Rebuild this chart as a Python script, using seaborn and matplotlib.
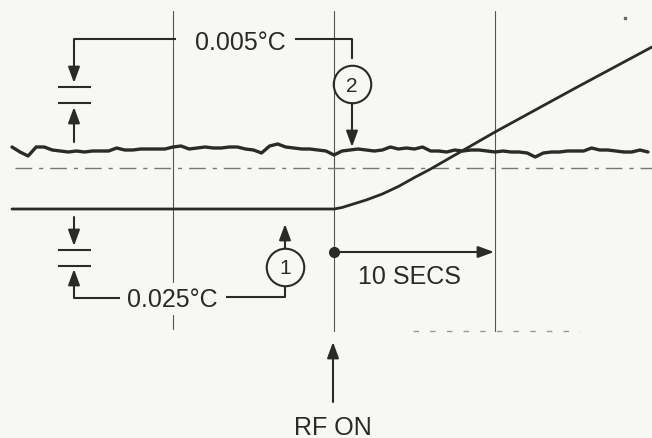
import numpy as np
import pandas as pd
import matplotlib.pyplot as plt
import seaborn as sns

# time relative to RF switch-on (s); chart paper runs ~16 px per second
t_noise = np.arange(-20, 20, 0.5)
# trace 2 (0.005 C scale), pen position
trace2 = [148, 153, 157, 148, 148, 151, 152, 153, 152, 153,
          152, 152, 152, 149, 151, 151, 150, 150, 150, 150,
          148, 147, 150, 149, 148, 149, 149, 148, 148, 150,
          151, 154, 147, 145, 148, 149, 150, 150, 151, 152,
          156, 152, 151, 150, 151, 152, 151, 148, 150, 149,
          150, 148, 152, 152, 153, 151, 152, 151, 151, 152,
          153, 152, 153, 153, 154, 158, 154, 153, 153, 152,
          152, 152, 149, 151, 151, 152, 153, 153, 151, 153]
# trace 1 (0.025 C scale): flat, then ramps after RF on
t_ramp = [-20, -10, 0, 0.5, 1, 2, 3, 4, 5, 6, 10, 15, 19.75]
trace1 = [210, 210, 210, 208.5, 206, 201, 195, 187.5, 178.5, 170, 133, 89, 48]
grid_t = [-10, 0, 10]

INK = "#2a2a2a"
BG = "#f7f8f4"


def X(px):
    # horizontal position on the sheet (pixels) -> seconds
    return (px - 334) / 16.1


sns.set_theme(style="white")
plt.rcParams["font.family"] = ["Liberation Sans", "DejaVu Sans"]

fig = plt.figure(figsize=(6.52, 4.39), dpi=100, facecolor=BG)
ax = fig.add_axes([0, 0, 1, 1], facecolor=BG)

# chart grid (the -10 s line is broken round the 0.025 C label)
ax.plot([grid_t[0]] * 2, [12, 283], color="#555", lw=0.8)
ax.plot([grid_t[0]] * 2, [316, 330], color="#555", lw=0.8)
for g in grid_t[1:]:
    ax.plot([g, g], [12, 332], color="#555", lw=0.8)
ax.plot([X(15), X(652)], [169, 169], color="#777", lw=1, ls=(0, (12, 5, 3, 5)))
ax.plot([X(413), X(580)], [332, 332], color="#999", lw=1, ls=(0, (4, 8)))
ax.plot(X(625), 19, "s", ms=1.5, color="#666")

df2 = pd.DataFrame({"t": t_noise, "y": trace2})
df1 = pd.DataFrame({"t": t_ramp, "y": trace1})
sns.lineplot(data=df2, x="t", y="y", ax=ax, color=INK, lw=2.4, estimator=None, sort=False)
sns.lineplot(data=df1, x="t", y="y", ax=ax, color=INK, lw=2.0, estimator=None, sort=False)
ax.set_xlim(X(0), X(652))
ax.set_ylim(439, 0)
ax.axis("off")

arw = dict(arrowstyle="-|>,head_length=0.6,head_width=0.22", color=INK, lw=1.5,
           shrinkA=0, shrinkB=0, mutation_scale=16)
fs = 18


def line(xs, ys, **kw):
    ax.plot([X(v) for v in xs], ys, color=INK, lw=1.5, solid_capstyle="butt", **kw)


def arrow(x0, y0, x1, y1):
    ax.annotate("", xy=(X(x1), y1), xytext=(X(x0), y0), arrowprops=arw)


# 0.005 C scale marker and label
line([74, 176], [40, 40])
line([295, 352, 352], [40, 40, 60])
arrow(74, 40, 74, 84)
line([58, 91], [88, 88])
line([58, 91], [104, 104])
arrow(74, 143, 74, 108)
ax.text(X(240), 43, "0.005°C", ha="center", va="center", fontsize=fs, color=INK)
ax.plot(X(352), 85, "o", ms=27, mfc="none", mec=INK, mew=1.5)
ax.text(X(352), 86, "2", ha="center", va="center", fontsize=fs - 3, color=INK)
arrow(352, 104, 352, 148)

# 0.025 C scale marker and label
arrow(74, 218, 74, 247)
line([58, 91], [251, 251])
line([58, 91], [267, 267])
arrow(74, 299, 74, 270)
line([74, 120], [299, 299])
ax.text(X(172), 300, "0.025°C", ha="center", va="center", fontsize=fs, color=INK)
line([226, 285, 285], [298, 298, 287])
ax.plot(X(285), 268, "o", ms=27, mfc="none", mec=INK, mew=1.5)
ax.text(X(285), 269, "1", ha="center", va="center", fontsize=fs - 3, color=INK)
arrow(285, 249, 285, 225)

# time scale
ax.plot(X(334), 253, "o", ms=7, color=INK)
arrow(334, 253, 494, 253)
ax.text(X(410), 277, "10 SECS", ha="center", va="center", fontsize=fs, color=INK)

# RF on marker
arrow(333, 403, 333, 343)
ax.text(X(333), 428, "RF ON", ha="center", va="center", fontsize=fs, color=INK)

fig.savefig("out.png", dpi=100, facecolor=BG)
